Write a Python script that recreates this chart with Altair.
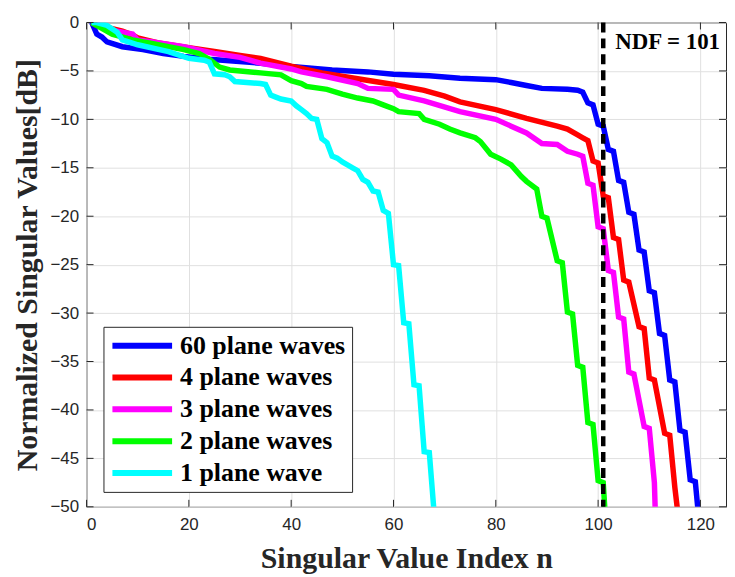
import altair as alt
import pandas as pd

# ---------------- data ----------------
series_names = ["60 plane waves", "4 plane waves", "3 plane waves", "2 plane waves", "1 plane wave"]
series_colors = ["#0000ff", "#ff0000", "#ff00ff", "#00ff00", "#00ffff"]

blue_x = [1, 2, 3, 4, 7, 11, 15, 19, 24, 34, 40, 48, 55, 60, 67, 73, 80, 83, 86, 89, 94, 96, 97, 98, 99, 100, 101, 102, 103, 104, 105, 106, 107, 108, 109, 110, 111, 112, 113, 114, 115, 116, 117, 118, 119, 120]
blue_y = [0, -1.2, -1.5, -2.0, -2.5, -2.8, -3.2, -3.5, -3.8, -4.2, -4.55, -4.9, -5.1, -5.35, -5.5, -5.75, -5.9, -6.2, -6.5, -6.8, -6.9, -7.0, -7.2, -8.3, -8.5, -10.5, -10.7, -13.1, -13.3, -16.3, -16.5, -19.6, -19.8, -23.5, -23.7, -27.7, -27.9, -32.1, -32.3, -36.9, -37.1, -42.1, -42.3, -47.2, -47.4, -53.0]

red_x = [1, 2, 4, 7, 9, 10, 14, 20, 25, 30, 34, 40, 46, 53, 60, 66, 70, 73, 80, 86, 92, 94, 96, 97, 98, 99, 100, 101, 102, 103, 104, 105, 106, 108, 109, 110, 111, 113, 114, 115, 116]
red_y = [0, -0.3, -0.5, -0.9, -1.3, -1.6, -2.1, -2.6, -3.0, -3.4, -3.7, -4.5, -5.2, -5.8, -6.4, -7.0, -7.6, -8.2, -9.0, -9.9, -10.7, -11.0, -11.6, -11.9, -12.2, -14.3, -14.5, -17.9, -18.1, -22.2, -22.4, -26.6, -26.8, -31.4, -31.6, -36.7, -36.9, -42.4, -42.6, -48.0, -52.5]

mag_x = [1, 3, 5, 7, 9, 10, 13, 19, 25, 30, 34, 40, 42, 47, 53, 55, 60, 61, 66, 73, 80, 83, 86, 89, 92, 94, 96, 97, 98, 99, 100, 101, 102, 103, 104, 105, 106, 107, 109, 110, 111, 112]
mag_y = [0, -0.4, -0.8, -1.0, -1.2, -1.8, -2.0, -2.5, -3.2, -3.6, -4.2, -4.8, -5.1, -5.6, -6.3, -6.8, -6.9, -7.5, -8.1, -9.2, -10.0, -10.7, -11.4, -12.5, -12.6, -13.3, -13.6, -13.8, -16.6, -16.8, -21.1, -21.3, -25.6, -25.8, -30.4, -30.6, -36.1, -36.3, -41.7, -41.9, -47.5, -65.0]

green_x = [1, 3, 5, 9, 13, 19, 22, 24, 26, 28, 34, 38, 40, 42, 43, 47, 50, 53, 56, 58, 60, 61, 65, 66, 69, 71, 73, 76, 77, 79, 81, 83, 85, 86, 88, 89, 90, 92, 93, 94, 95, 96, 97, 98, 99, 100, 101, 102]
green_y = [0, -0.6, -1.2, -1.8, -2.2, -2.8, -3.2, -3.8, -4.6, -4.9, -5.2, -5.4, -6.0, -6.3, -6.6, -6.9, -7.4, -7.8, -8.1, -8.5, -8.9, -9.2, -9.4, -10.0, -10.5, -11.0, -11.4, -11.9, -12.3, -13.6, -14.1, -14.7, -15.9, -16.4, -17.2, -20.0, -20.2, -24.6, -24.8, -29.9, -30.1, -35.4, -35.6, -41.3, -41.5, -47.3, -47.5, -56.0]

cyan_x = [1, 2, 4, 6, 7, 10, 16, 20, 23, 24, 25, 27, 28, 29, 34, 35, 36, 37, 38, 40, 41, 42, 43, 44, 45, 46, 47, 48, 49, 50, 51, 52, 53, 54, 55, 56, 57, 58, 59, 60, 61, 62, 63, 64, 65, 66, 67, 68]
cyan_y = [0, 0, -0.3, -1.0, -1.8, -2.3, -3.0, -3.7, -3.9, -4.1, -5.3, -5.4, -5.6, -6.1, -6.3, -6.4, -7.5, -7.7, -7.9, -8.1, -8.6, -9.0, -9.4, -9.9, -10.0, -12.0, -12.4, -13.8, -14.0, -14.4, -14.7, -15.0, -15.3, -16.2, -16.5, -17.4, -17.5, -19.4, -19.7, -25.0, -25.1, -31.0, -31.1, -37.4, -37.5, -44.3, -44.4, -51.0]

x_ticks = [0, 20, 40, 60, 80, 100, 120]
y_ticks = [0, -5, -10, -15, -20, -25, -30, -35, -40, -45, -50]
ndf_value = [101]
ndf_label = ["NDF = 101"]

# ---------------- tables ----------------
rows = []
for name, xs, ys in zip(series_names,
                        [blue_x, red_x, mag_x, green_x, cyan_x],
                        [blue_y, red_y, mag_y, green_y, cyan_y]):
    for i, (xv, yv) in enumerate(zip(xs, ys)):
        rows.append({"series": name, "n": xv, "db": yv, "k": i})
df = pd.DataFrame(rows)
xt = pd.DataFrame({"n": x_ticks})
yt = pd.DataFrame({"db": y_ticks})
ndf = pd.DataFrame({"n": ndf_value, "label": ndf_label})

W, H = 643, 487
TXT = "#262626"
xscale = alt.Scale(domain=[0, 125], nice=False, zero=False)
yscale = alt.Scale(domain=[-50, 0], nice=False, zero=False)

x_axis = alt.Axis(values=x_ticks, title="Singular Value Index n", grid=True,
                  ticks=False, tickSize=0, domain=False, format="d",
                  labelFont="Liberation Sans", labelFontSize=17, labelColor=TXT,
                  labelPadding=10, gridColor="#e0e0e0", gridWidth=1,
                  titleFont="Liberation Serif", titleFontWeight="bold",
                  titleFontSize=30, titleColor=TXT, titleBaseline="alphabetic",
                  titleY=61)
y_axis = alt.Axis(values=y_ticks, title="Normalized Singular Values[dB]", grid=True,
                  ticks=False, tickSize=0, domain=False, format="d",
                  labelFont="Liberation Sans", labelFontSize=17, labelColor=TXT,
                  labelPadding=8, gridColor="#e0e0e0", gridWidth=1,
                  titleFont="Liberation Serif", titleFontWeight="bold",
                  titleFontSize=30, titleColor=TXT, titleBaseline="alphabetic",
                  titleAngle=270, titleX=-50, titleY=H / 2, titleAlign="center")

X = lambda: alt.X("n:Q", scale=xscale, axis=x_axis)
Y = lambda: alt.Y("db:Q", scale=yscale, axis=y_axis)

lines = alt.Chart(df).mark_line(strokeWidth=5.5, clip=True).encode(
    x=X(),
    y=Y(),
    color=alt.Color("series:N",
                    scale=alt.Scale(domain=series_names, range=series_colors),
                    legend=alt.Legend(orient="none", legendX=17, legendY=306, title=None,
                                      symbolType="stroke", symbolSize=3600,
                                      symbolStrokeWidth=6, clipHeight=26,
                                      labelFont="Liberation Serif", labelFontWeight="bold",
                                      labelFontSize=26, labelColor="black", labelLimit=400,
                                      labelOffset=5, padding=6, rowPadding=6,
                                      strokeColor=TXT, fillColor="white",
                                      symbolOffset=0)),
    order=alt.Order("k:Q"),
)

bottom_ticks = alt.Chart(xt).mark_rule(color=TXT, strokeWidth=1).encode(
    x=X(), y=alt.value(H), y2=alt.value(H - 7))
top_ticks = alt.Chart(xt).mark_rule(color=TXT, strokeWidth=1).encode(
    x=X(), y=alt.value(0), y2=alt.value(7))
left_ticks = alt.Chart(yt).mark_rule(color=TXT, strokeWidth=1).encode(
    y=Y(), x=alt.value(0), x2=alt.value(7))
right_ticks = alt.Chart(yt).mark_rule(color=TXT, strokeWidth=1).encode(
    y=Y(), x=alt.value(W - 7), x2=alt.value(W))

ndf_line = alt.Chart(ndf).mark_rule(color="black", strokeWidth=4.5, strokeDash=[10, 6]).encode(
    x=X(), y=alt.value(0), y2=alt.value(H))
ndf_text = alt.Chart(ndf).mark_text(font="Liberation Serif", fontWeight="bold", fontSize=23,
                                    align="left", baseline="alphabetic", dx=12,
                                    color="black").encode(
    x=X(), y=alt.value(26.5), text="label:N")

chart = alt.layer(lines, bottom_ticks, top_ticks, left_ticks, right_ticks, ndf_line, ndf_text).properties(
    width=W, height=H,
    padding={"left": 79, "top": 13, "right": 1, "bottom": 68},
    autosize=alt.AutoSizeParams(type="none"),
).configure_view(stroke=TXT, strokeWidth=1)

chart.save("out.html", embed_options={"renderer": "svg", "actions": False})
